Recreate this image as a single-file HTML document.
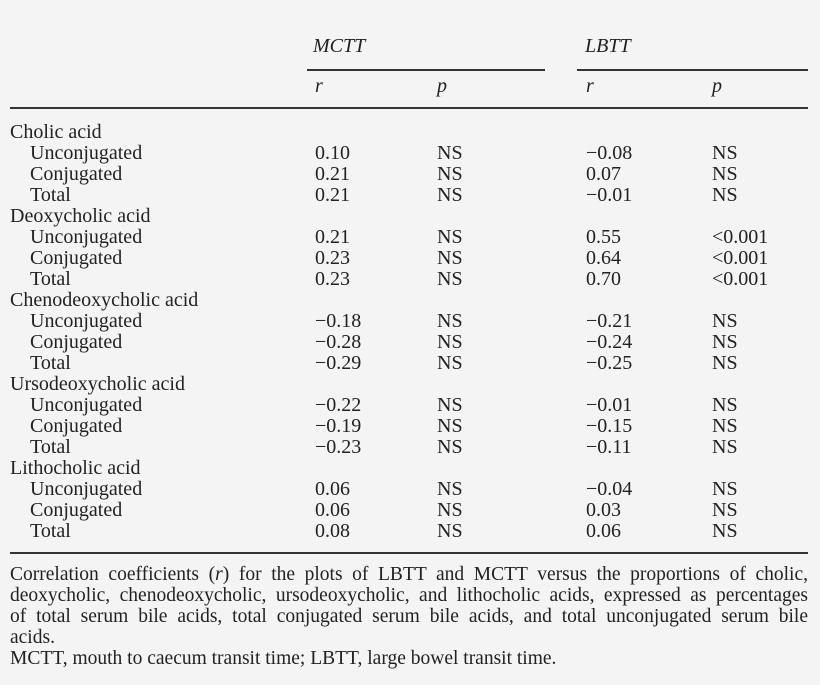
<!DOCTYPE html>
<html><head><meta charset="utf-8"><style>
body{margin:0;background:#f4f4f4;width:820px;height:685px;overflow:hidden;position:relative;font-family:"Liberation Serif",serif;color:#222;font-size:20px}
.t{position:absolute;white-space:nowrap;line-height:20px}
.l{position:absolute;background:#333;height:1.5px}
i{font-style:italic}
.cap{position:absolute;left:10px;width:798px;top:564px;line-height:21px;font-size:19.5px}
.cap .j{text-align:justify;text-align-last:justify;white-space:nowrap}
</style></head><body>
<div class="t" style="left:313px;top:36px"><i>MCTT</i></div>
<div class="t" style="left:585px;top:36px"><i>LBTT</i></div>
<div class="l" style="left:307px;width:238px;top:69px"></div>
<div class="l" style="left:577px;width:231px;top:69px"></div>
<div class="t" style="left:315px;top:76px"><i>r</i></div>
<div class="t" style="left:437px;top:76px"><i>p</i></div>
<div class="t" style="left:586px;top:76px"><i>r</i></div>
<div class="t" style="left:712px;top:76px"><i>p</i></div>
<div class="l" style="left:10px;width:798px;top:107px"></div>
<div class="l" style="left:10px;width:798px;top:552px"></div>
<div id="rows"></div>
<div class="cap">
<div class="j">Correlation coefficients (<i>r</i>) for the plots of LBTT and MCTT versus the proportions of cholic,</div>
<div class="j">deoxycholic, chenodeoxycholic, ursodeoxycholic, and lithocholic acids, expressed as percentages</div>
<div class="j">of total serum bile acids, total conjugated serum bile acids, and total unconjugated serum bile</div>
<div>acids.</div>
<div>MCTT, mouth to caecum transit time; LBTT, large bowel transit time.</div>
</div>
<script>
var d=[["Cholic acid"],["Unconjugated","0.10","NS","−0.08","NS"],["Conjugated","0.21","NS","0.07","NS"],["Total","0.21","NS","−0.01","NS"],
["Deoxycholic acid"],["Unconjugated","0.21","NS","0.55","<0.001"],["Conjugated","0.23","NS","0.64","<0.001"],["Total","0.23","NS","0.70","<0.001"],
["Chenodeoxycholic acid"],["Unconjugated","−0.18","NS","−0.21","NS"],["Conjugated","−0.28","NS","−0.24","NS"],["Total","−0.29","NS","−0.25","NS"],
["Ursodeoxycholic acid"],["Unconjugated","−0.22","NS","−0.01","NS"],["Conjugated","−0.19","NS","−0.15","NS"],["Total","−0.23","NS","−0.11","NS"],
["Lithocholic acid"],["Unconjugated","0.06","NS","−0.04","NS"],["Conjugated","0.06","NS","0.03","NS"],["Total","0.08","NS","0.06","NS"]];
var xs=[10,315,437,586,712],h="";
d.forEach(function(r,i){var y=122+i*21;
if(r.length==1)h+='<div class="t" style="left:10px;top:'+y+'px">'+r[0]+'</div>';
else{h+='<div class="t" style="left:30px;top:'+y+'px">'+r[0]+'</div>';
for(var j=1;j<5;j++)h+='<div class="t" style="left:'+xs[j]+'px;top:'+y+'px">'+r[j].replace('<','&lt;')+'</div>';}});
document.getElementById('rows').innerHTML=h;
</script>
</body></html>
